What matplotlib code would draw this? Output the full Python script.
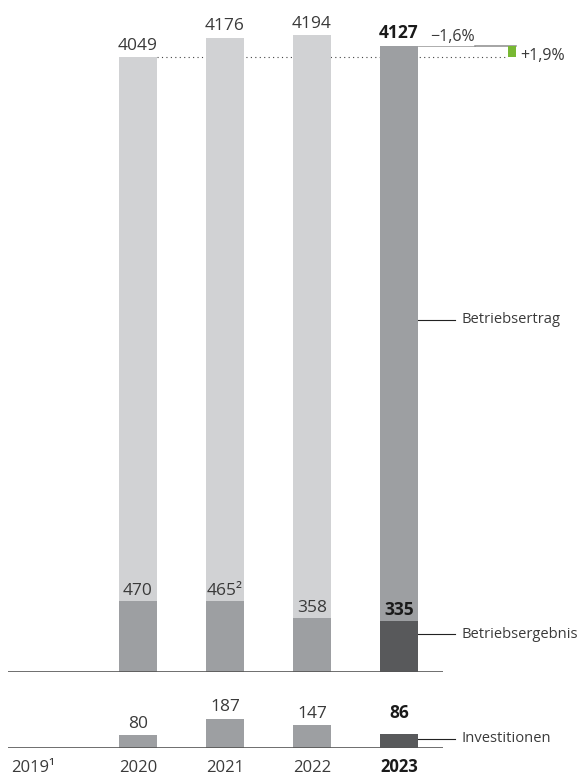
import matplotlib.pyplot as plt

plt.rcParams['font.family'] = ['Open Sans', 'DejaVu Sans']

years = ['2019¹', '2020', '2021', '2022', '2023']
xpos = [1, 2, 3, 4]                      # 2020..2023, 2019 has no bars
ertrag = [4049, 4176, 4194, 4127]         # Betriebsertrag
ergebnis = [470, 465, 358, 335]           # Betriebsergebnis
ergebnis_labels = ['470', '465²', '358', '335']
invest = [80, 187, 147, 86]               # Investitionen
chg_prev = '−1,6%'
chg_2020 = '+1,9%'

light = '#d1d2d4'
mid = '#9d9fa2'
dark = '#58595b'
green = '#78b833'
txt = '#3a3a3a'
W, H = 580, 776
px_per_unit = 0.1518

fig = plt.figure(figsize=(W / 100, H / 100), dpi=100)

# x in data units: bars at 1..4, 87 px apart, 2020 centred at px 138
x0 = 1 - 138 / 87
x1 = 1 + (W - 138) / 87

# --- upper panel: Betriebsertrag / Betriebsergebnis
base = 672
ax = fig.add_axes([0, (H - base) / H, 1, base / H])
ax.set_xlim(x0, x1)
ax.set_ylim(0, base / px_per_unit)
ax.axis('off')

w = 0.44
tops = [light, light, light, mid]
lows = [mid, mid, mid, dark]
ax.bar(xpos, ertrag, width=w, color=tops, zorder=2)
ax.bar(xpos, ergebnis, width=w, color=lows, zorder=3)
ax.plot([-0.5, 4.5], [0, 0], color='#555555', lw=1.2, zorder=4,
        solid_capstyle='butt')

for x, v in zip(xpos, ertrag):
    bold = x == 4
    ax.annotate(str(v), (x, v), xytext=(0, 5.5), textcoords='offset points',
                ha='center', va='baseline', fontsize=12.5,
                fontweight='bold' if bold else 'normal',
                color='#1a1a1a' if bold else txt)
for x, v, s in zip(xpos, ergebnis, ergebnis_labels):
    bold = x == 4
    ax.annotate(s, (x, v), xytext=(0, 4.3), textcoords='offset points',
                ha='center', va='baseline', fontsize=12.5,
                fontweight='bold' if bold else 'normal',
                color='#1a1a1a' if bold else txt)

# change vs. 2020: dotted reference line and green step
gx = 1 + (512 - 138) / 87
ax.hlines(ertrag[0], 1 + w / 2, gx - 0.05, colors='#444444', lw=0.8,
          linestyles=(0, (1, 3)), zorder=1)
ax.bar(gx, ertrag[3] - ertrag[0], bottom=ertrag[0], width=0.09,
       color=green, zorder=3)
ax.plot([4 + w / 2, 4.87], [ertrag[3]] * 2, color='#a0a0a0', lw=0.6, zorder=2)
ax.plot([4.87, gx + 0.045], [ertrag[3]] * 2, color='#8c8c8c', lw=1.1,
        zorder=2)
ax.annotate(chg_prev, (4 + w / 2, ertrag[3]), xytext=(8.5, 3.5),
            textcoords='offset points', ha='left', va='baseline',
            fontsize=11.5, color=txt)
ax.annotate(chg_2020, (gx + 0.045, ertrag[0]), xytext=(3, 1),
            textcoords='offset points', ha='left',
            va='center', fontsize=11.5, color=txt)

# series labels with leader lines
lx0, lx1 = 4 + w / 2, 1 + (455 - 138) / 87
for y, s in [(2319, 'Betriebsertrag'), (250, 'Betriebsergebnis')]:
    ax.plot([lx0, lx1], [y, y], color='#222222', lw=0.8)
    ax.text(lx1 + 0.08, y, s, ha='left', va='center', fontsize=10.6,
            color=txt)

# --- lower panel: Investitionen
base2 = 747.5
top2 = 690
ax2 = fig.add_axes([0, (H - base2) / H, 1, (base2 - top2) / H])
ax2.set_xlim(x0, x1)
ax2.set_ylim(0, (base2 - top2) / px_per_unit)
ax2.axis('off')

ax2.bar(xpos, invest, width=w, color=[mid, mid, mid, dark], zorder=2)
ax2.plot([-0.5, 4.5], [0, 0], color='#555555', lw=1.2, zorder=4,
         solid_capstyle='butt')
inv_offsets = [5.5, 5.5, 5.5, 12]
for x, v, off in zip(xpos, invest, inv_offsets):
    bold = x == 4
    ax2.annotate(str(v), (x, v), xytext=(0, off), textcoords='offset points',
                 ha='center', va='baseline', fontsize=12.5,
                 fontweight='bold' if bold else 'normal',
                 color='#1a1a1a' if bold else txt)

ax2.plot([lx0, lx1], [59, 59], color='#222222', lw=0.8)
ax2.text(lx1 + 0.08, 59, 'Investitionen', ha='left', va='center',
         fontsize=10.6, color=txt)

# year labels under the lower baseline
year_x = [1 + (33 - 138) / 87, 1, 2, 3, 4]
year_y = -(772 - base2) / (base2 - top2)
for x, s in zip(year_x, years):
    bold = s == '2023'
    ax2.text(x, year_y, s, transform=ax2.get_xaxis_transform(),
             ha='center', va='baseline', fontsize=12,
             fontweight='bold' if bold else 'normal',
             color='#1a1a1a' if bold else txt)

fig.savefig('out.png', dpi=100)
